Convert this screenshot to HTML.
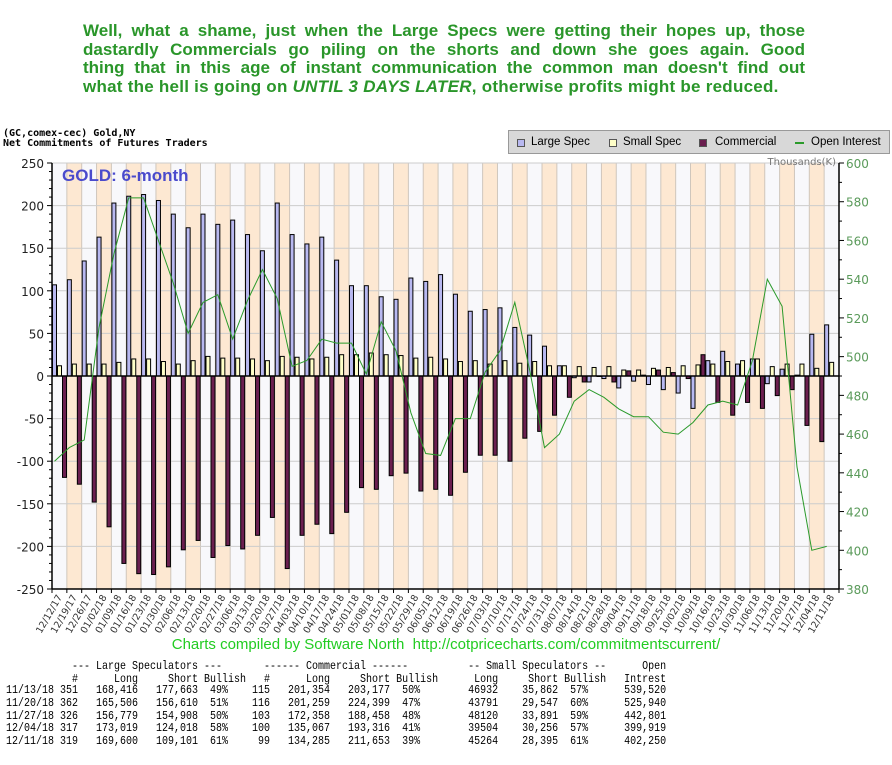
<!DOCTYPE html>
<html><head><meta charset="utf-8">
<style>
body{margin:0;background:#fff;width:892px;height:765px;overflow:hidden;position:relative;font-family:"Liberation Sans",sans-serif}
#headline{position:absolute;left:83px;top:22px;width:722px;color:#2a962a;font-weight:bold;font-size:17px;line-height:18.5px}
#headline div{text-align:justify;text-align-last:justify;white-space:nowrap}
#headline div.last{text-align-last:left;letter-spacing:0.25px}
#t1{position:absolute;left:3px;top:129px;font:bold 10px "DejaVu Sans Mono","Liberation Mono",monospace;line-height:10px;color:#000}
#legend{position:absolute;left:508px;top:130px;width:380px;height:22px;background:#d8d8d8;border:1px solid #999;font-size:11.5px;color:#000}
#legend span{position:absolute;top:5px}
.sw{position:absolute;top:8px;width:6px;height:6px;border:1px solid #555}
#footer{position:absolute;left:0;width:892px;top:636px;text-align:center;color:#22cc22;font:15px "Liberation Sans Narrow","Liberation Sans",sans-serif}
.tl{position:absolute;left:6px;font:10px "Liberation Mono",monospace;color:#000;white-space:pre;line-height:12px;transform:scaleY(1.2);transform-origin:left center}
</style></head><body>
<div id="headline">
<div>Well, what a shame, just when the Large Specs were getting their hopes up, those</div>
<div>dastardly Commercials go piling on the shorts and down she goes again. Good</div>
<div>thing that in this age of instant communication the common man doesn't find out</div>
<div class="last">what the hell is going on <i>UNTIL 3 DAYS LATER</i>, otherwise profits might be reduced.</div>
</div>
<div id="t1">(GC,comex-cec) Gold,NY<br>Net Commitments of Futures Traders</div>
<div id="legend">
<div class="sw" style="left:8px;background:#b8b8f0"></div><span style="left:22px">Large Spec</span>
<div class="sw" style="left:100px;background:#ffffc8"></div><span style="left:114px">Small Spec</span>
<div class="sw" style="left:190px;background:#6b1f4f"></div><span style="left:206px">Commercial</span>
<div style="position:absolute;left:286px;top:11px;width:9px;height:2px;background:#2a9a2a"></div><span style="left:302px">Open Interest</span>
</div>
<svg id="chart" width="892" height="765" style="position:absolute;left:0;top:0" xmlns="http://www.w3.org/2000/svg"></svg>
<div id="footer">Charts compiled by Software North&nbsp; http://cotpricecharts.com/commitmentscurrent/</div>
<div id="table"></div>
<script>
const dates=["12/12/17","12/19/17","12/26/17","01/02/18","01/09/18","01/16/18","01/23/18","01/30/18","02/06/18","02/13/18","02/20/18","02/27/18","03/06/18","03/13/18","03/20/18","03/27/18","04/03/18","04/10/18","04/17/18","04/24/18","05/01/18","05/08/18","05/15/18","05/22/18","05/29/18","06/05/18","06/12/18","06/19/18","06/26/18","07/03/18","07/10/18","07/17/18","07/24/18","07/31/18","08/07/18","08/14/18","08/21/18","08/28/18","09/04/18","09/11/18","09/18/18","09/25/18","10/02/18","10/09/18","10/16/18","10/23/18","10/30/18","11/06/18","11/13/18","11/20/18","11/27/18","12/04/18","12/11/18"];
const largeSpec=[107,113,135,163,203,211,213,206,190,174,190,178,183,166,147,203,166,155,163,136,106,106,93,90,115,111,119,96,76,78,80,57,48,35,12,-2,-7,-3,-14,-6,-10,-16,-20,-38,18,29,14,20,-9,8,1,49,60];
const smallSpec=[12,14,14,14,16,20,20,17,14,18,23,21,21,20,18,23,22,20,22,25,25,27,25,24,21,22,20,17,18,14,18,15,17,12,12,11,10,11,7,7,9,10,12,13,14,17,18,20,11,14,14,9,16];
const commercial=[-119,-127,-148,-177,-220,-232,-233,-224,-204,-193,-213,-199,-203,-187,-166,-226,-187,-174,-185,-160,-131,-133,-117,-114,-135,-133,-140,-113,-93,-93,-100,-73,-65,-46,-25,-7,0,-7,6,1,7,4,-3,25,-31,-46,-31,-38,-23,-16,-58,-77];
const openInt=[446,453,457,515,553,582,582,560,538,512,528,532,509,529,545,530,495,498,509,507,507,491,518,503,471,450,449,468,468,492,503,528,493,453,460,477,483,479,473,469,469,461,460,466,475,477,475,498,540,526,443,400,402];
const leftTicks=[250,200,150,100,50,0,-50,-100,-150,-200,-250];
const rightTicks=[600,580,560,540,520,500,480,460,440,420,400,380];
const tableDates=["11/13/18","11/20/18","11/27/18","12/04/18","12/11/18"];
const lsCount=["351","362","326","317","319"];
const lsLong=["168,416","165,506","156,779","173,019","169,600"];
const lsShort=["177,663","156,610","154,908","124,018","109,101"];
const lsBull=["49%","51%","50%","58%","61%"];
const cmCount=["115","116","103","100","99"];
const cmLong=["201,354","201,259","172,358","135,067","134,285"];
const cmShort=["203,177","224,399","188,458","193,316","211,653"];
const cmBull=["50%","47%","48%","41%","39%"];
const ssLong=["46932","43791","48120","39504","45264"];
const ssShort=["35,862","29,547","33,891","30,256","28,395"];
const ssBull=["57%","60%","59%","57%","61%"];
const oiVals=["539,520","525,940","442,801","399,919","402,250"];
</script>
<script>
const NS="http://www.w3.org/2000/svg";
const svg=document.getElementById('chart');
const X0=52,X1=839,Y0=163,Y1=589;
const N=dates.length, CW=(X1-X0)/N;
function yL(v){return Y1-(v+250)/500*(Y1-Y0);}
function yR(v){return Y1-(v-380)/220*(Y1-Y0);}
function xc(i){return X0+i*CW;}
function mk(tag,attrs,parent){const e=document.createElementNS(NS,tag);for(const k in attrs)e.setAttribute(k,attrs[k]);(parent||svg).appendChild(e);return e;}
for(let i=0;i<N;i++){
  const r=mk('rect',{x:xc(i),y:Y0,width:CW,height:Y1-Y0,fill:i%2?'#fde8d2':'#f8f8fb'});
  
  
  const l=mk('line',{x1:xc(i),x2:xc(i),y1:Y0,y2:Y1,stroke:'#cfc6bc','stroke-width':1});
  
  
}
leftTicks.forEach(v=>{
  const g=mk('line',{x1:X0,x2:X1,y1:yL(v),y2:yL(v),stroke:'#cccccc','stroke-width':1});
  
  
  const t=mk('text',{x:44,y:yL(v)+5,'text-anchor':'end','font-size':'12','font-family':'DejaVu Sans, sans-serif',fill:'#222'});
  t.textContent=v;
  
  
});
for(let v=-250;v<=250;v+=10){
  const m=mk('line',{x1:X0-(v%50===0?5:3),x2:X0,y1:yL(v),y2:yL(v),stroke:'#000'});
  
  
}
rightTicks.forEach(v=>{
  const t=mk('text',{x:846,y:yR(v)+5,'font-size':'12','font-family':'DejaVu Sans, sans-serif',fill:'#5a9a5a'});
  t.textContent=v;
  
  
});
for(let v=380;v<=600;v+=10){
  const m=mk('line',{x1:X1,x2:X1+(v%20===0?5:3),y1:yR(v),y2:yR(v),stroke:'#000'});
  
  
}
const ta=mk('text',{x:836,y:165,'text-anchor':'end','font-size':'10','font-family':'DejaVu Sans, sans-serif',fill:'#777'});
ta.textContent='Thousands(K)';


function bar(i,off,v,fill,name){
  const y0=yL(0),y=yL(v);
  const r=mk('rect',{x:xc(i)+off,y:Math.min(y,y0),width:4,height:Math.max(Math.abs(y-y0),0.5),fill:fill,stroke:'#000','stroke-width':1});
  
  
}
for(let i=0;i<N;i++){
  bar(i,0.5,largeSpec[i],'#b8b8f0','bar-large-spec');
  bar(i,5.5,smallSpec[i],'#ffffc8','bar-small-spec');
  bar(i,10.5,commercial[i],'#6b1f4f','bar-commercial');
}
const z=mk('line',{x1:X0,x2:X1,y1:yL(0),y2:yL(0),stroke:'#000','stroke-width':1.5});


const pts=openInt.map((v,i)=>(xc(i)+2.5).toFixed(1)+','+yR(v).toFixed(1)).join(' ');
const pl=mk('polyline',{points:pts,fill:'none',stroke:'#2a9a2a','stroke-width':1});


const la=mk('line',{x1:X0,x2:X0,y1:Y0,y2:Y1,stroke:'#000','stroke-width':1.5});


const ra=mk('line',{x1:X1,x2:X1,y1:Y0,y2:Y1,stroke:'#000','stroke-width':1.5});


const ba=mk('line',{x1:X0,x2:X1,y1:Y1,y2:Y1,stroke:'#000','stroke-width':1.5});


for(let i=0;i<=N;i++){
  const m=mk('line',{x1:xc(i),x2:xc(i),y1:Y1,y2:Y1+4,stroke:'#000'});
  
  
}
dates.forEach((d,i)=>{
  const x=xc(i)+CW/2+3,y=Y1+8;
  const t=mk('text',{x:x,y:y,'text-anchor':'end','font-size':'9.5','font-family':'DejaVu Sans, sans-serif',fill:'#333',transform:'rotate(-60 '+x+' '+y+')'});
  t.textContent=d;
  
  
});
const gt=mk('text',{x:62,y:181,'font-size':'17','font-weight':'bold','font-family':'Liberation Sans, sans-serif',fill:'#4a4acc'});
gt.textContent='GOLD: 6-month';


// table as monospace grid
const tbl=document.getElementById('table');
function line(parts,top,name){
  const a=new Array(112).fill(' ');
  parts.forEach(p=>{const s=p[0];const start=p[2]==='r'?p[1]-s.length+1:p[1];for(let k=0;k<s.length;k++)a[start+k]=s[k];});
  const d=document.createElement('div');
  d.className='tl';
  d.textContent=a.join('').replace(/\s+$/,'');
  d.style.top=top+'px';
  
  
  tbl.appendChild(d);
}
line([['--- Large Speculators ---',11,'l'],['------ Commercial ------',43,'l'],['-- Small Speculators --',77,'l'],['Open',109,'r']],662,'table-header-groups');
line([['#',11,'r'],['Long',21,'r'],['Short Bullish',27,'l'],['#',43,'r'],['Long',53,'r'],['Short Bullish',59,'l'],['Long',81,'r'],['Short Bullish',87,'l'],['Intrest',109,'r']],675,'table-header-columns');
tableDates.forEach((d,i)=>{
  line([[d,0,'l'],[lsCount[i],11,'r'],[lsLong[i],21,'r'],[lsShort[i],31,'r'],[lsBull[i],34,'l'],[cmCount[i],43,'r'],[cmLong[i],53,'r'],[cmShort[i],63,'r'],[cmBull[i],66,'l'],[ssLong[i],81,'r'],[ssShort[i],91,'r'],[ssBull[i],94,'l'],[oiVals[i],109,'r']],686+i*12.8,'table-row');
});
</script>
</body></html>
